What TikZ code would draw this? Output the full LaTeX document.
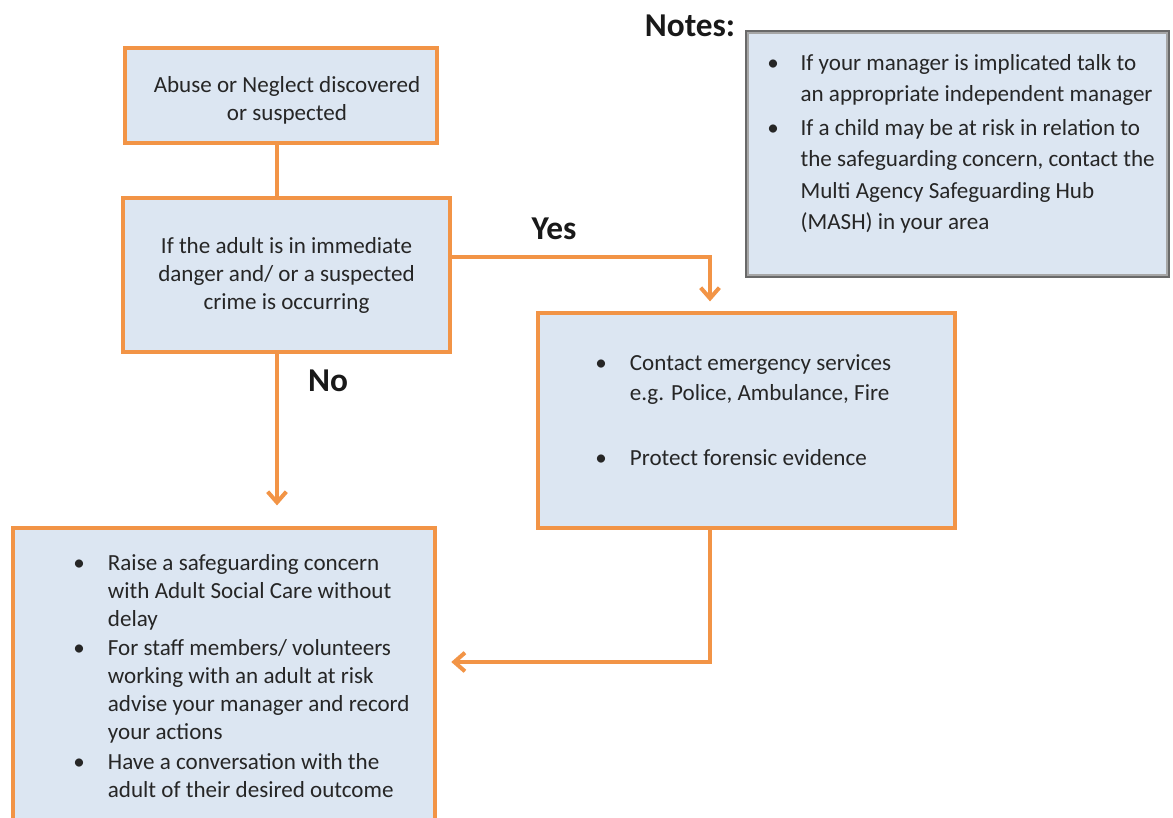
\documentclass[tikz,border=0pt]{standalone}
\usepackage{fontspec}
\setmainfont{Carlito}
\usepackage{tikz}
\usetikzlibrary{arrows.meta}
\definecolor{boxorange}{RGB}{242,148,70}
\definecolor{boxfill}{RGB}{220,230,242}
\definecolor{notegray}{RGB}{105,105,105}

\begin{document}
\begin{tikzpicture}[x=0.75pt,y=-0.75pt,
  box/.style={draw=boxorange, line width=2.4pt, fill=boxfill, inner sep=0pt},
  notebox/.style={draw=notegray, line width=3.2pt, fill=boxfill, inner sep=0pt},
  words/.style={font=\fontsize{17.3}{21}\selectfont, align=center, text=black!85},
  bullets/.style={font=\fontsize{17.3}{21}\selectfont, inner sep=0pt, text=black!85},
  answer/.style={font=\fontsize{25}{30}\selectfont\bfseries, text=black!90},
  link/.style={draw=boxorange, line width=3pt},
  flow/.style={link, -{Straight Barb[length=8pt,width=14pt]}}]
\useasboundingbox (0,0) rectangle (1173,817);
\clip (0,0) rectangle (1173,817);

\coordinate (trunk) at (277,0);
\coordinate (yesbend) at (710,257);
\coordinate (backbend) at (710,662);

% boxes
\node[box, minimum width=234pt, minimum height=71.25pt] (abuse) at (281,95.5) {};
\node[box, words, minimum width=245.25pt, minimum height=115.5pt] (danger) at (286.5,275)
  {If the adult is in immediate\\danger and/ or a suspected\\crime is occurring};
\node[box, minimum width=312.75pt, minimum height=161.25pt] (emergency) at (746.5,420.5) {};
\node[box, minimum width=316.5pt, minimum height=240pt] (raise) at (224,688) {};
\node[notebox, minimum width=315.75pt, minimum height=183pt] (notes) at (957.5,154) {};
\draw[black!35, line width=1.2pt] ([shift={(2.4pt,-2.4pt)}]notes.north west) rectangle ([shift={(-2.4pt,2.4pt)}]notes.south east);

% texts
\node[words] (abusetext) at (287,100) {Abuse or Neglect discovered\\or suspected};
\node[bullets, anchor=base west] (emergencytext) at (595,370)
  {\begin{tabular}[t]{@{}p{26pt}@{}l@{}}
   • & Contact emergency services\\[2pt]
     & e.g. Police, Ambulance, Fire\\[27.5pt]
   • & Protect forensic evidence
   \end{tabular}};
\node[bullets, anchor=base west] (raisetext) at (73,570)
  {\begin{tabular}[t]{@{}p{26pt}@{}l@{}}
   • & Raise a safeguarding concern\\
     & with Adult Social Care without\\
     & delay\\[1.2pt]
   • & For staff members/ volunteers\\
     & working with an adult at risk\\
     & advise your manager and record\\
     & your actions\\[1.2pt]
   • & Have a conversation with the\\
     & adult of their desired outcome
   \end{tabular}};
\node[bullets, anchor=base west, font=\fontsize{17.3}{23.5}\selectfont] (notestext) at (767,70)
  {\begin{tabular}[t]{@{}p{25pt}@{}l@{}}
   • & If your manager is implicated talk to\\
     & an appropriate independent manager\\[2pt]
   • & If a child may be at risk in relation to\\
     & the safeguarding concern, contact the\\
     & Multi Agency Safeguarding Hub\\
     & (MASH) in your area
   \end{tabular}};

\node[answer] (yes) at (554,229) {Yes};
\node[answer] (no) at (328,381) {No};
\node[answer] (notestitle) at (690,26) {Notes:};

% connectors
\draw[link] (abuse.south -| trunk) -- (danger.north -| trunk);
\draw[flow, shorten >=15.75pt] (danger.south -| trunk) -- (raise.north -| trunk);
\draw[flow, shorten >=7.5pt] (danger.east |- yesbend) -- (yesbend) -- (emergency.north -| yesbend);
\draw[flow, shorten >=11pt] (emergency.south -| backbend) -- (backbend) -- (raise.east |- backbend);
\end{tikzpicture}
\end{document}
